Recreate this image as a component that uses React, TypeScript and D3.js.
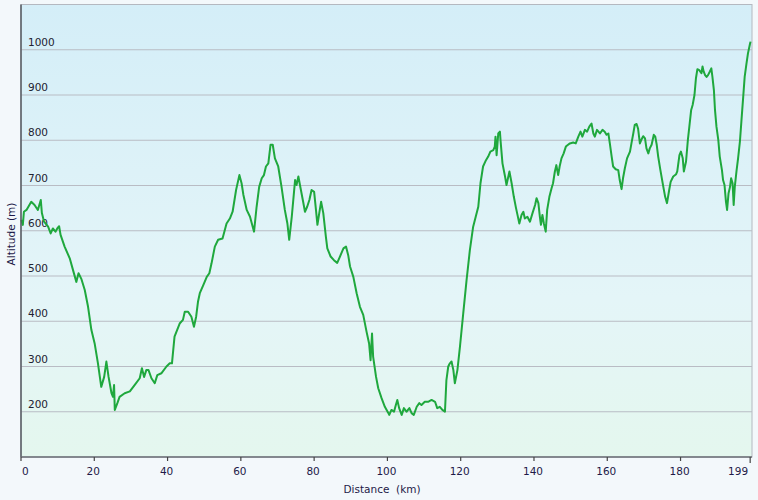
import { useEffect, useRef } from 'react';
import * as d3 from 'd3';

// elevation profile: [distance km, altitude m]
const profile: [number, number][] = [
  [0.1, 624], [0.5, 613], [0.8, 642], [1.5, 646], [2.8, 664], [3.7, 657], [4.6, 646], [5.4, 668],
  [5.7, 639], [6.3, 620], [7.4, 609], [8.1, 594], [8.7, 605], [9.4, 598], [9.9, 605], [10.4, 610],
  [10.8, 591], [11.9, 565], [13.3, 539], [14.2, 513], [15.1, 487], [15.7, 506], [16.5, 493], [17.4, 469],
  [18.3, 432], [19.2, 381], [20.1, 351], [21.0, 307], [21.9, 255], [22.7, 277], [23.3, 311], [23.9, 277],
  [24.7, 241], [25.1, 233], [25.4, 259], [25.6, 204], [26.3, 219], [26.9, 233], [28.3, 241], [29.7, 245],
  [31.0, 259], [32.4, 274], [33.0, 296], [33.6, 277], [34.2, 292], [34.8, 292], [35.6, 274], [36.5, 263],
  [37.2, 281], [38.3, 285], [39.7, 300], [40.6, 307], [41.2, 307], [41.9, 366], [43.3, 395], [44.2, 403],
  [44.7, 421], [45.6, 421], [46.5, 410], [47.2, 388], [47.8, 410], [48.3, 443],
  [48.8, 462], [49.75, 480], [50.7, 498], [51.4, 506], [52.0, 528], [52.9, 565], [53.8, 580], [55.0, 583],
  [56.1, 616], [57.0, 627], [57.75, 642], [58.7, 690], [59.6, 723], [60.2, 705], [60.7, 679], [61.6, 646],
  [62.5, 631], [63.6, 598], [64.3, 653], [65.0, 697], [65.7, 716], [66.3, 723], [66.85, 742], [67.5, 749],
  [68.1, 790], [68.7, 790], [69.3, 760], [70.2, 742], [71.1, 697], [72.0, 646], [72.7, 616], [73.2, 580],
  [73.9, 631], [74.8, 712], [75.2, 701], [75.7, 720], [76.3, 694], [77.0, 664], [77.5, 642], [78.1, 653],
  [78.7, 668], [79.3, 690], [80.0, 686], [80.5, 646], [80.9, 613], [81.4, 639], [81.9, 664], [82.5, 639],
  [83.2, 587], [83.6, 561], [84.5, 543], [85.4, 535], [86.3, 529], [87.05, 543], [88.0, 561], [88.7, 565],
  [89.3, 546], [89.8, 521], [90.7, 498], [91.6, 462], [92.5, 432], [93.4, 414], [94.3, 377], [95.0, 351],
  [95.4, 314], [95.8, 373], [96.1, 322], [96.9, 277], [97.5, 252], [98.4, 230], [99.3, 211], [100.2, 198],
  [100.5, 193], [101.1, 204], [101.8, 200], [102.3, 215], [102.7, 226], [103.2, 208], [103.9, 193], [104.5, 208],
  [105.2, 200], [106.0, 208], [106.6, 197], [107.2, 193], [108.0, 211], [108.7, 219], [109.3, 215], [110.2, 222],
  [111.1, 222], [112.05, 226], [113.0, 222], [113.6, 208], [114.3, 211], [115.0, 204], [115.7, 200], [116.1, 270],
  [116.6, 300], [117.05, 307], [117.5, 311], [118.0, 292], [118.4, 263], [119.1, 292], [119.8, 344], [120.7, 418],
  [121.6, 491], [122.5, 557], [123.4, 609], [124.1, 631], [124.8, 653], [125.4, 705], [126.1, 742], [126.9, 756],
  [127.5, 764], [128.1, 775], [128.9, 778], [129.3, 786], [129.5, 808], [129.8, 767], [130.25, 815], [130.7, 819],
  [130.9, 797], [131.4, 749], [132.1, 720], [132.5, 701], [133.3, 731], [133.9, 705], [134.5, 675], [135.1, 650],
  [135.5, 635], [136.0, 616], [136.6, 635], [137.1, 642], [137.5, 627], [138.2, 631], [138.9, 620], [139.6, 639],
  [140.3, 657], [140.7, 672], [141.2, 661], [141.6, 631], [141.9, 613], [142.3, 635], [142.7, 616], [143.2, 598],
  [143.6, 646], [144.2, 675], [144.8, 694], [145.2, 705], [145.7, 731], [146.1, 745], [146.6, 723], [147.0, 742],
  [147.5, 760], [148.1, 771], [148.7, 786], [149.3, 790], [149.8, 793],
  [150.7, 795], [151.4, 793], [152.1, 808], [152.7, 819], [153.2, 808], [153.9, 823], [154.5, 819], [155.1, 830],
  [155.7, 837], [156.2, 815], [156.6, 808], [157.2, 823], [158.0, 815], [158.7, 823], [159.3, 819], [159.8, 812],
  [160.3, 815], [160.7, 793], [161.2, 764], [161.6, 742], [162.3, 736], [163.0, 734], [163.4, 712], [163.9, 692],
  [164.3, 716], [164.8, 738], [165.4, 760], [166.2, 775], [166.6, 793], [167.1, 815], [167.5, 834], [168.0, 836],
  [168.4, 826], [168.9, 793], [169.3, 801], [169.8, 809], [170.3, 804], [170.7, 782], [171.2, 771], [171.6, 782],
  [172.1, 790], [172.7, 812], [173.1, 808], [173.5, 790], [173.9, 764], [174.5, 734], [175.3, 697], [175.8, 675],
  [176.3, 661], [176.9, 690], [177.3, 708], [178.0, 720], [178.8, 725], [179.1, 731], [179.7, 767], [180.1, 775],
  [180.6, 760], [180.9, 731], [181.5, 753], [182.0, 801], [182.4, 830], [182.9, 867], [183.3, 878], [183.8, 900],
  [184.2, 937], [184.6, 957], [185.1, 955], [185.7, 948], [186.0, 963], [186.3, 952], [186.7, 944], [187.1, 940],
  [187.5, 944], [188.0, 952], [188.4, 959], [188.7, 940], [189.1, 911], [189.4, 867], [189.8, 830], [190.3, 801],
  [190.7, 764], [191.3, 734], [191.6, 712], [192.0, 701], [192.4, 664], [192.7, 646], [193.1, 683], [193.5, 697],
  [193.8, 716], [194.2, 705], [194.5, 657], [194.8, 697], [195.3, 734], [195.7, 760], [196.2, 797], [196.6, 841],
  [197.1, 896], [197.5, 940], [198.0, 970], [198.4, 992], [198.9, 1011], [199.1, 1018],
];

const xTicks = [0, 20, 40, 60, 80, 100, 120, 140, 160, 180, 199];
const yTicks = [200, 300, 400, 500, 600, 700, 800, 900, 1000];

const W = 758;
const H = 500;
const FONT = '"DejaVu Sans", Verdana, sans-serif';

const App = () => {
  const svgRef = useRef<SVGSVGElement>(null);

  useEffect(() => {
    if (!svgRef.current) return;
    const svg = d3.select(svgRef.current);
    svg.selectAll('*').remove();

    const left = 21, right = 752, top = 4.5, bottom = 457;

    const x = d3.scaleLinear().domain([0, 199.5]).range([left, right]);
    const y = d3.scaleLinear().domain([100, 1100]).range([bottom, top]);

    // page background
    svg.append('rect').attr('width', W).attr('height', H).attr('fill', '#f3f8fb');

    const defs = svg.append('defs');
    const grad = defs.append('linearGradient')
      .attr('id', 'plotBg')
      .attr('x1', 0).attr('y1', 0).attr('x2', 0).attr('y2', 1);
    grad.append('stop').attr('offset', '0%').attr('stop-color', '#d4eef8');
    grad.append('stop').attr('offset', '65%').attr('stop-color', '#e4f5f8');
    grad.append('stop').attr('offset', '100%').attr('stop-color', '#e4f7ee');

    // plot area
    svg.append('rect')
      .attr('x', left).attr('y', top)
      .attr('width', right - left).attr('height', bottom - top)
      .attr('fill', 'url(#plotBg)')
      .attr('stroke', '#b4b8c0')
      .attr('stroke-width', 1);

    // horizontal grid + labels inside the plot
    const grid = svg.append('g');
    yTicks.forEach(t => {
      grid.append('line')
        .attr('x1', left).attr('x2', right)
        .attr('y1', y(t)).attr('y2', y(t))
        .attr('stroke', '#b9bcc4')
        .attr('stroke-width', 1);
      grid.append('text')
        .attr('x', 28)
        .attr('y', y(t) - 4)
        .attr('font-family', FONT)
        .attr('font-size', 10.5)
        .attr('fill', '#222230')
        .text(t);
    });

    // altitude line
    const line = d3.line<[number, number]>()
      .x(d => x(d[0]))
      .y(d => y(d[1]));

    svg.append('path')
      .datum(profile)
      .attr('d', line)
      .attr('fill', 'none')
      .attr('stroke', '#1fa83d')
      .attr('stroke-width', 2)
      .attr('stroke-linejoin', 'round');

    // axes lines
    svg.append('line')
      .attr('x1', left).attr('x2', left)
      .attr('y1', top).attr('y2', bottom)
      .attr('stroke', '#555a60').attr('stroke-width', 1.5);
    svg.append('line')
      .attr('x1', left).attr('x2', right)
      .attr('y1', bottom).attr('y2', bottom)
      .attr('stroke', '#6a6e74').attr('stroke-width', 1.5);

    // x ticks
    const xg = svg.append('g');
    xTicks.forEach((t, i) => {
      const last = i === xTicks.length - 1;
      xg.append('line')
        .attr('x1', x(t)).attr('x2', x(t))
        .attr('y1', bottom).attr('y2', bottom + (last ? 6 : 4))
        .attr('stroke', '#444').attr('stroke-width', 1.2);
      xg.append('text')
        .attr('x', i === 0 ? x(t) + 1 : last ? x(t) - 2 : x(t) - 1)
        .attr('y', 475)
        .attr('text-anchor', i === 0 ? 'start' : last ? 'end' : 'middle')
        .attr('font-family', FONT)
        .attr('font-size', 10.5)
        .attr('fill', '#1e1a48')
        .text(t);
    });

    // axis titles
    svg.append('text')
      .attr('x', 382).attr('y', 493)
      .attr('text-anchor', 'middle')
      .attr('font-family', FONT)
      .attr('font-size', 10.5)
      .attr('fill', '#1e1a48')
      .attr('xml:space', 'preserve')
      .style('white-space', 'pre')
      .text('Distance  (km)');

    svg.append('text')
      .attr('transform', 'translate(15,234) rotate(-90)')
      .attr('text-anchor', 'middle')
      .attr('font-family', FONT)
      .attr('font-size', 10.5)
      .attr('fill', '#1e1a48')
      .text('Altitude (m)');
  }, []);

  return (
    <svg
      ref={svgRef}
      width={W}
      height={H}
      style={{ position: 'absolute', left: 0, top: 0, display: 'block' }}
    />
  );
};

export default App;
